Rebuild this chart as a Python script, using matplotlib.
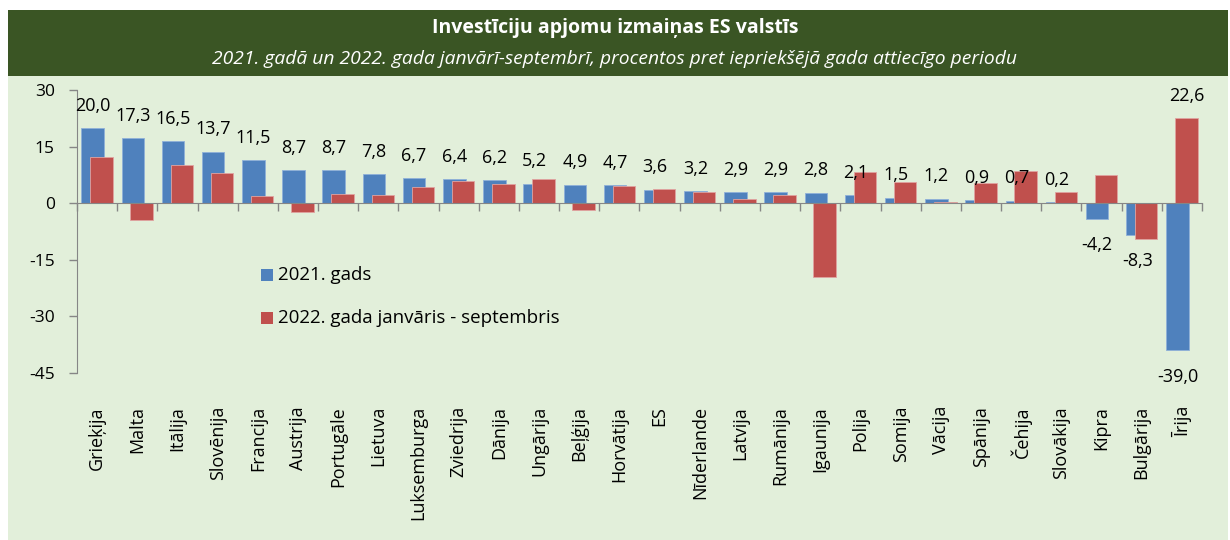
import matplotlib.pyplot as plt
from matplotlib.patches import Rectangle
from matplotlib.transforms import blended_transform_factory
import numpy as np

countries = ['Grieķija', 'Malta', 'Itālija', 'Slovēnija', 'Francija', 'Austrija',
             'Portugāle', 'Lietuva', 'Luksemburga', 'Zviedrija', 'Dānija', 'Ungārija',
             'Beļģija', 'Horvātija', 'ES', 'Nīderlande', 'Latvija', 'Rumānija',
             'Igaunija', 'Polija', 'Somija', 'Vācija', 'Spānija', 'Čehija',
             'Slovākija', 'Kipra', 'Bulgārija', 'Īrija']
v2021 = [20.0, 17.3, 16.5, 13.7, 11.5, 8.7, 8.7, 7.8, 6.7, 6.4, 6.2, 5.2, 4.9, 4.7,
         3.6, 3.2, 2.9, 2.9, 2.8, 2.1, 1.5, 1.2, 0.9, 0.7, 0.2, -4.2, -8.3, -39.0]
v2022 = [12.2, -4.5, 10.2, 7.9, 2.0, -2.4, 2.5, 2.1, 4.2, 5.9, 5.0, 6.4, -1.8, 4.6,
         3.8, 3.0, 1.1, 2.3, -19.6, 8.3, 5.6, 0.4, 5.4, 8.6, 3.1, 7.4, -9.6, 22.6]
yticks = [-45, -30, -15, 0, 15, 30]

blue = '#4f81bd'
red = '#c0504d'
dark_green = '#3a5524'
light_green = '#e2efda'
font = 'Open Sans'

fig = plt.figure(figsize=(12.3, 5.4), dpi=100)
fig.patch.set_facecolor('white')

# background panels
fig.patches.append(Rectangle((8/1230, 0), 1220/1230, 464/540, transform=fig.transFigure,
                             facecolor=light_green, edgecolor='none', zorder=-5))
fig.patches.append(Rectangle((8/1230, 464/540), 1220/1230, 66/540, transform=fig.transFigure,
                             facecolor=dark_green, edgecolor='none', zorder=-5))
fig.text(0.5, 1 - 28/540, 'Investīciju apjomu izmaiņas ES valstīs', color='white',
         fontsize=14, fontweight='bold', ha='center', va='center', family=font)
fig.text(0.5, 1 - 59/540, '2021. gadā un 2022. gada janvārī-septembrī, procentos pret iepriekšējā gada attiecīgo periodu',
         color='white', fontsize=13.9, style='italic', ha='center', va='center', family=font)

ax = fig.add_axes([77/1230, 1 - 373/540, 1125/1230, 283/540])
ax.set_zorder(5)
ax.set_facecolor('none')
x = np.arange(len(countries))
bw = 0.56
ax.bar(x - 0.11, v2021, width=bw, color=blue, edgecolor='#8fb0d9', linewidth=0.6, zorder=2)
ax.bar(x + 0.11, v2022, width=bw, color=red, edgecolor='#e0a3a1', linewidth=0.6, zorder=3)

ax.set_xlim(-0.5, len(countries) - 0.5)
ax.set_ylim(-45, 30)
ax.set_yticks(yticks)
ax.set_yticklabels([str(t) for t in yticks], family=font, fontsize=12.5)
ax.tick_params(axis='y', direction='out', length=6, width=1, color='#868686', pad=10)
ax.set_xticks(np.arange(-0.5, len(countries), 1))
ax.set_xticklabels([])
ax.tick_params(axis='x', direction='out', length=6, width=1, color='#868686')
for s in ['top', 'right']:
    ax.spines[s].set_visible(False)
ax.spines['left'].set_color('#868686')
ax.spines['bottom'].set_position(('data', 0))
ax.spines['bottom'].set_color('#868686')
ax.spines['bottom'].set_zorder(4)

# country labels at the bottom
tr = blended_transform_factory(ax.transData, ax.transAxes)
for i, c in enumerate(countries):
    ax.text(i, -33/283, c, transform=tr, rotation=90, ha='center', va='top',
            fontsize=13, family=font)

# data labels
for i, v in enumerate(v2021):
    off = 16 if v >= 0 else -19
    ax.annotate(f'{v:.1f}'.replace('.', ','), (i - 0.11, v), xytext=(0, off),
                textcoords='offset points', ha='center', va='center',
                fontsize=13, family=font, zorder=5)
last = len(countries) - 1
ax.annotate(f'{v2022[last]:.1f}'.replace('.', ','), (last + 0.11, v2022[last]), xytext=(0, 16),
            textcoords='offset points', ha='center', va='center', fontsize=13, family=font)

# legend
for yy, col, lab in [(275, blue, '2021. gads'), (318, red, '2022. gada janvāris - septembris')]:
    fig.patches.append(Rectangle((261/1230, 1 - (yy + 6)/540), 12/1230, 12/540,
                                 transform=fig.transFigure, facecolor=col, edgecolor='none',
                                 zorder=6))
    fig.text(278/1230, 1 - yy/540, lab, fontsize=13.5, va='center', ha='left', family=font,
             zorder=6)

fig.savefig('out.png', dpi=100)
